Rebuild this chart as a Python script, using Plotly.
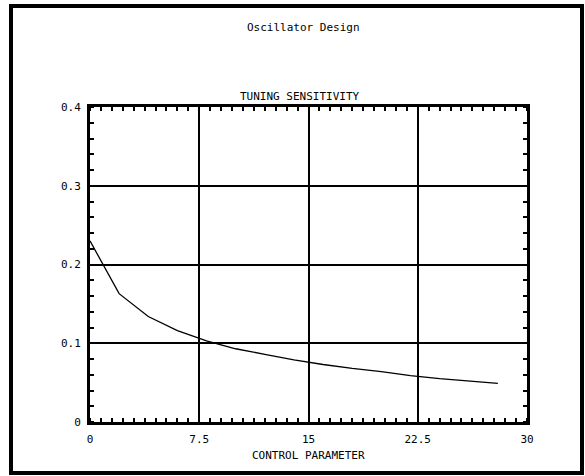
import plotly.graph_objects as go

control_parameter = [0, 2, 4, 6, 8, 10, 12, 14, 16, 18, 20, 22, 24, 26, 28]
tuning_sensitivity = [0.230, 0.163, 0.134, 0.116, 0.103, 0.093, 0.086, 0.079, 0.073,
                      0.068, 0.064, 0.059, 0.055, 0.052, 0.049]
x_ticks = [0, 7.5, 15, 22.5, 30]
x_tick_labels = ["0", "7.5", "15", "22.5", "30"]
y_ticks = [0, 0.1, 0.2, 0.3, 0.4]
y_tick_labels = ["0", "0.1", "0.2", "0.3", "0.4"]

FONT = "DejaVu Sans Mono"

fig = go.Figure()
fig.add_trace(go.Scatter(x=control_parameter, y=tuning_sensitivity, mode="lines",
                         line=dict(color="black", width=1.3), showlegend=False,
                         hoverinfo="x+y"))

axis_common = dict(
    showline=True, linecolor="black", linewidth=3, mirror="allticks",
    showgrid=True, gridcolor="black", gridwidth=2,
    ticks="", zeroline=False,
    tickfont=dict(family=FONT, size=11, color="black"),
)

fig.update_xaxes(range=[0, 30], tickvals=x_ticks, ticktext=x_tick_labels,
                 ticklabelstandoff=5,
                 minor=dict(dtick=0.75, ticks="inside", ticklen=4, tickwidth=2,
                            tickcolor="black", showgrid=False),
                 **axis_common)
fig.update_yaxes(range=[0, 0.4], tickvals=y_ticks, ticktext=y_tick_labels,
                 ticklabelstandoff=4,
                 minor=dict(dtick=0.02, ticks="inside", ticklen=4, tickwidth=2,
                            tickcolor="black", showgrid=False),
                 **axis_common)

L, R, T, B = 90, 58, 107, 54
W, H = 585, 476
pw, ph = W - L - R, H - T - B

def px_x(px):
    return (px - L) / pw

def px_y(py):
    return (H - B - py) / ph

fig.add_shape(type="rect", xref="paper", yref="paper",
              x0=px_x(11), x1=px_x(582), y0=px_y(6), y1=px_y(473),
              line=dict(color="black", width=4), fillcolor="rgba(0,0,0,0)", layer="above")

for text, cx, cy in [("Oscillator Design", 303, 27),
                     ("TUNING SENSITIVITY", 300, 97),
                     ("CONTROL PARAMETER", 308, 455)]:
    fig.add_annotation(text=text, xref="paper", yref="paper",
                       x=px_x(cx), y=px_y(cy), xanchor="center", yanchor="middle",
                       showarrow=False,
                       font=dict(family=FONT, size=11, color="black"))

fig.update_layout(width=W, height=H, margin=dict(l=L, r=R, t=T, b=B),
                  plot_bgcolor="white", paper_bgcolor="white")

fig.write_html("out.html")
